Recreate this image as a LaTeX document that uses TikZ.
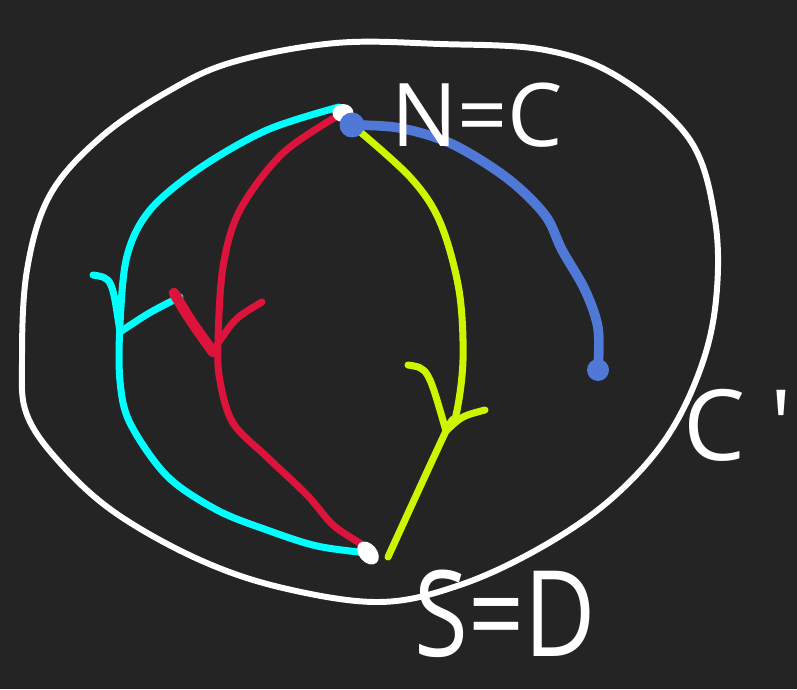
\documentclass[tikz,border=0pt]{standalone}
\usepackage{fontspec}
\usetikzlibrary{shapes.geometric}
\newfontfamily\hand{Open Sans}
\definecolor{bg}{HTML}{252424}
\definecolor{cy}{HTML}{00FFFF}
\definecolor{rd}{HTML}{DC143C}
\definecolor{yg}{HTML}{CCF500}
\definecolor{bl}{HTML}{5078D6}
\begin{document}
\begin{tikzpicture}[x=0.02cm,y=-0.02cm,
  loopline/.style={white,line width=3.4pt,line cap=round,line join=round},
  pathline/.style={line width=4pt,line cap=round,line join=round},
  lbl/.style={white,inner sep=0pt},
  bdot/.style={circle,fill=bl,inner sep=0pt,minimum size=0.5cm},
  wblob/.style={ellipse,fill=white,inner sep=0pt,minimum width=0.42cm,minimum height=0.36cm}]
\fill[bg] (0,0) rectangle (797,689);
\useasboundingbox (0,0) rectangle (797,689);
% named points
\coordinate (Nw) at (339,107);
\coordinate (Nr) at (341,114);
\coordinate (N) at (352,125);
\coordinate (S) at (368,553);
\coordinate (Sr) at (360,543);
\coordinate (Sy) at (388,557);
\coordinate (B) at (598,370);
\coordinate (ca) at (120,332);
\coordinate (ra) at (213,352);
\coordinate (ya) at (446,431);
% closed curve C'
\draw[loopline] plot[smooth cycle,tension=0.6] coordinates {(336,43) (440,44) (545,50) (620,78) (690,140) (715,220) (716,300) (700,370) (665,440) (610,500) (540,548) (460,585) (380,602) (283,588) (200,560) (117,514) (62,465) (27,415) (22,360) (27,270) (50,195) (100,138) (167,92) (233,62)};
% cyan path
\draw[pathline,cy] plot[smooth,tension=0.55] coordinates {(Nw) (267,130) (200,168) (150,210) (127,256) (120,324) (120,381) (130,423) (167,476) (217,510) (267,530) (317,546) (S)};
\draw[pathline,cy] (93,275) .. controls (112,278) .. (ca);
\draw[pathline,cy] (ca) .. controls (150,312) .. (180,297);
% red path
\draw[pathline,rd] plot[smooth,tension=0.55] coordinates {(Nr) (283,153) (240,210) (223,267) (218,343) (220,381) (233,423) (267,457) (307,495) (333,525) (Sr)};
\draw[pathline,rd,line width=6pt] (174,293) .. controls (190,320) .. (ra);
\draw[pathline,rd] (217,345) .. controls (235,318) .. (262,302);
% yellow-green path
\draw[pathline,yg] plot[smooth,tension=0.55] coordinates {(N) (410,177) (440,222) (459,290) (463,360) (456,415) (ya) (Sy)};
\draw[pathline,yg] (408,365) .. controls (428,368) .. (ya);
\draw[pathline,yg] (ya) .. controls (462,416) .. (485,410);
% blue path
\draw[pathline,bl,line width=5.5pt] plot[smooth,tension=0.55] coordinates {(N) (400,128) (452,144) (507,178) (545,215) (562,250) (585,290) (598,328) (B)};
% points
\node[wblob] (Nwhite) at (343,113) {};
\node[bdot] (Ndot) at (N) {};
\node[wblob,minimum width=0.36cm,minimum height=0.52cm,rotate=40] (Sdot) at (S) {};
\node[bdot,minimum size=0.44cm] (Bdot) at (B) {};
% labels
\node[lbl,font={\hand\fontsize{50}{60}\selectfont}] (NC) at (477,115) {N=C};
\node[lbl,font={\hand\fontsize{68}{80}\selectfont}] (SD) at (505,614) {\scalebox{0.82}[1]{S=D}};
\node[lbl,font={\hand\fontsize{56}{66}\selectfont}] (Cp) at (738,425) {C\hspace{0.25em}'};
\end{tikzpicture}
\end{document}
